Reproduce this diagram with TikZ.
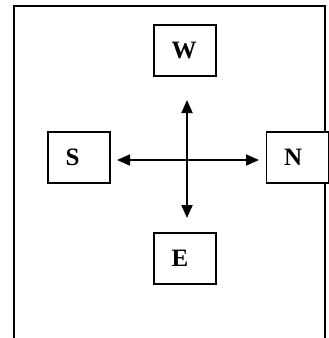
\documentclass[tikz,border=0pt]{standalone}
\usepackage{fontspec}
\setmainfont{Liberation Serif}
\usetikzlibrary{arrows.meta}

\begin{document}
\begin{tikzpicture}[x = 1pt,
y = -1pt,
dirbox/.style = {draw, line width=1.8pt, fill=white, text width=27pt, inner xsep=17.5pt, inner ysep=0pt, minimum height=51pt, align=left, font=\fontsize{25}{28}\selectfont\bfseries},
dirarrow/.style = {line width=1.8pt, {Triangle[length=13pt,width=11pt]}-{Triangle[length=13pt,width=11pt]}}]
\useasboundingbox (0,0) rectangle (329,338);

\draw [line width=1.6pt] (14,338) -- (14,6) -- (325,6) -- (325,338);

\node[dirbox] (west) at (185,50.5) {W};
\node[dirbox] (south) at (79,157.5) {S};
\node[dirbox] (north) at (297.5,157.5) {N};
\node[dirbox] (east) at (185,258.5) {E};

\coordinate (up) at (187,100);
\coordinate (down) at (187,218);
\coordinate (left) at (117,160);
\coordinate (right) at (259,160);

\draw [dirarrow] (down) -- (up);
\draw [dirarrow] (left) -- (right);
\end{tikzpicture}
\end{document}
